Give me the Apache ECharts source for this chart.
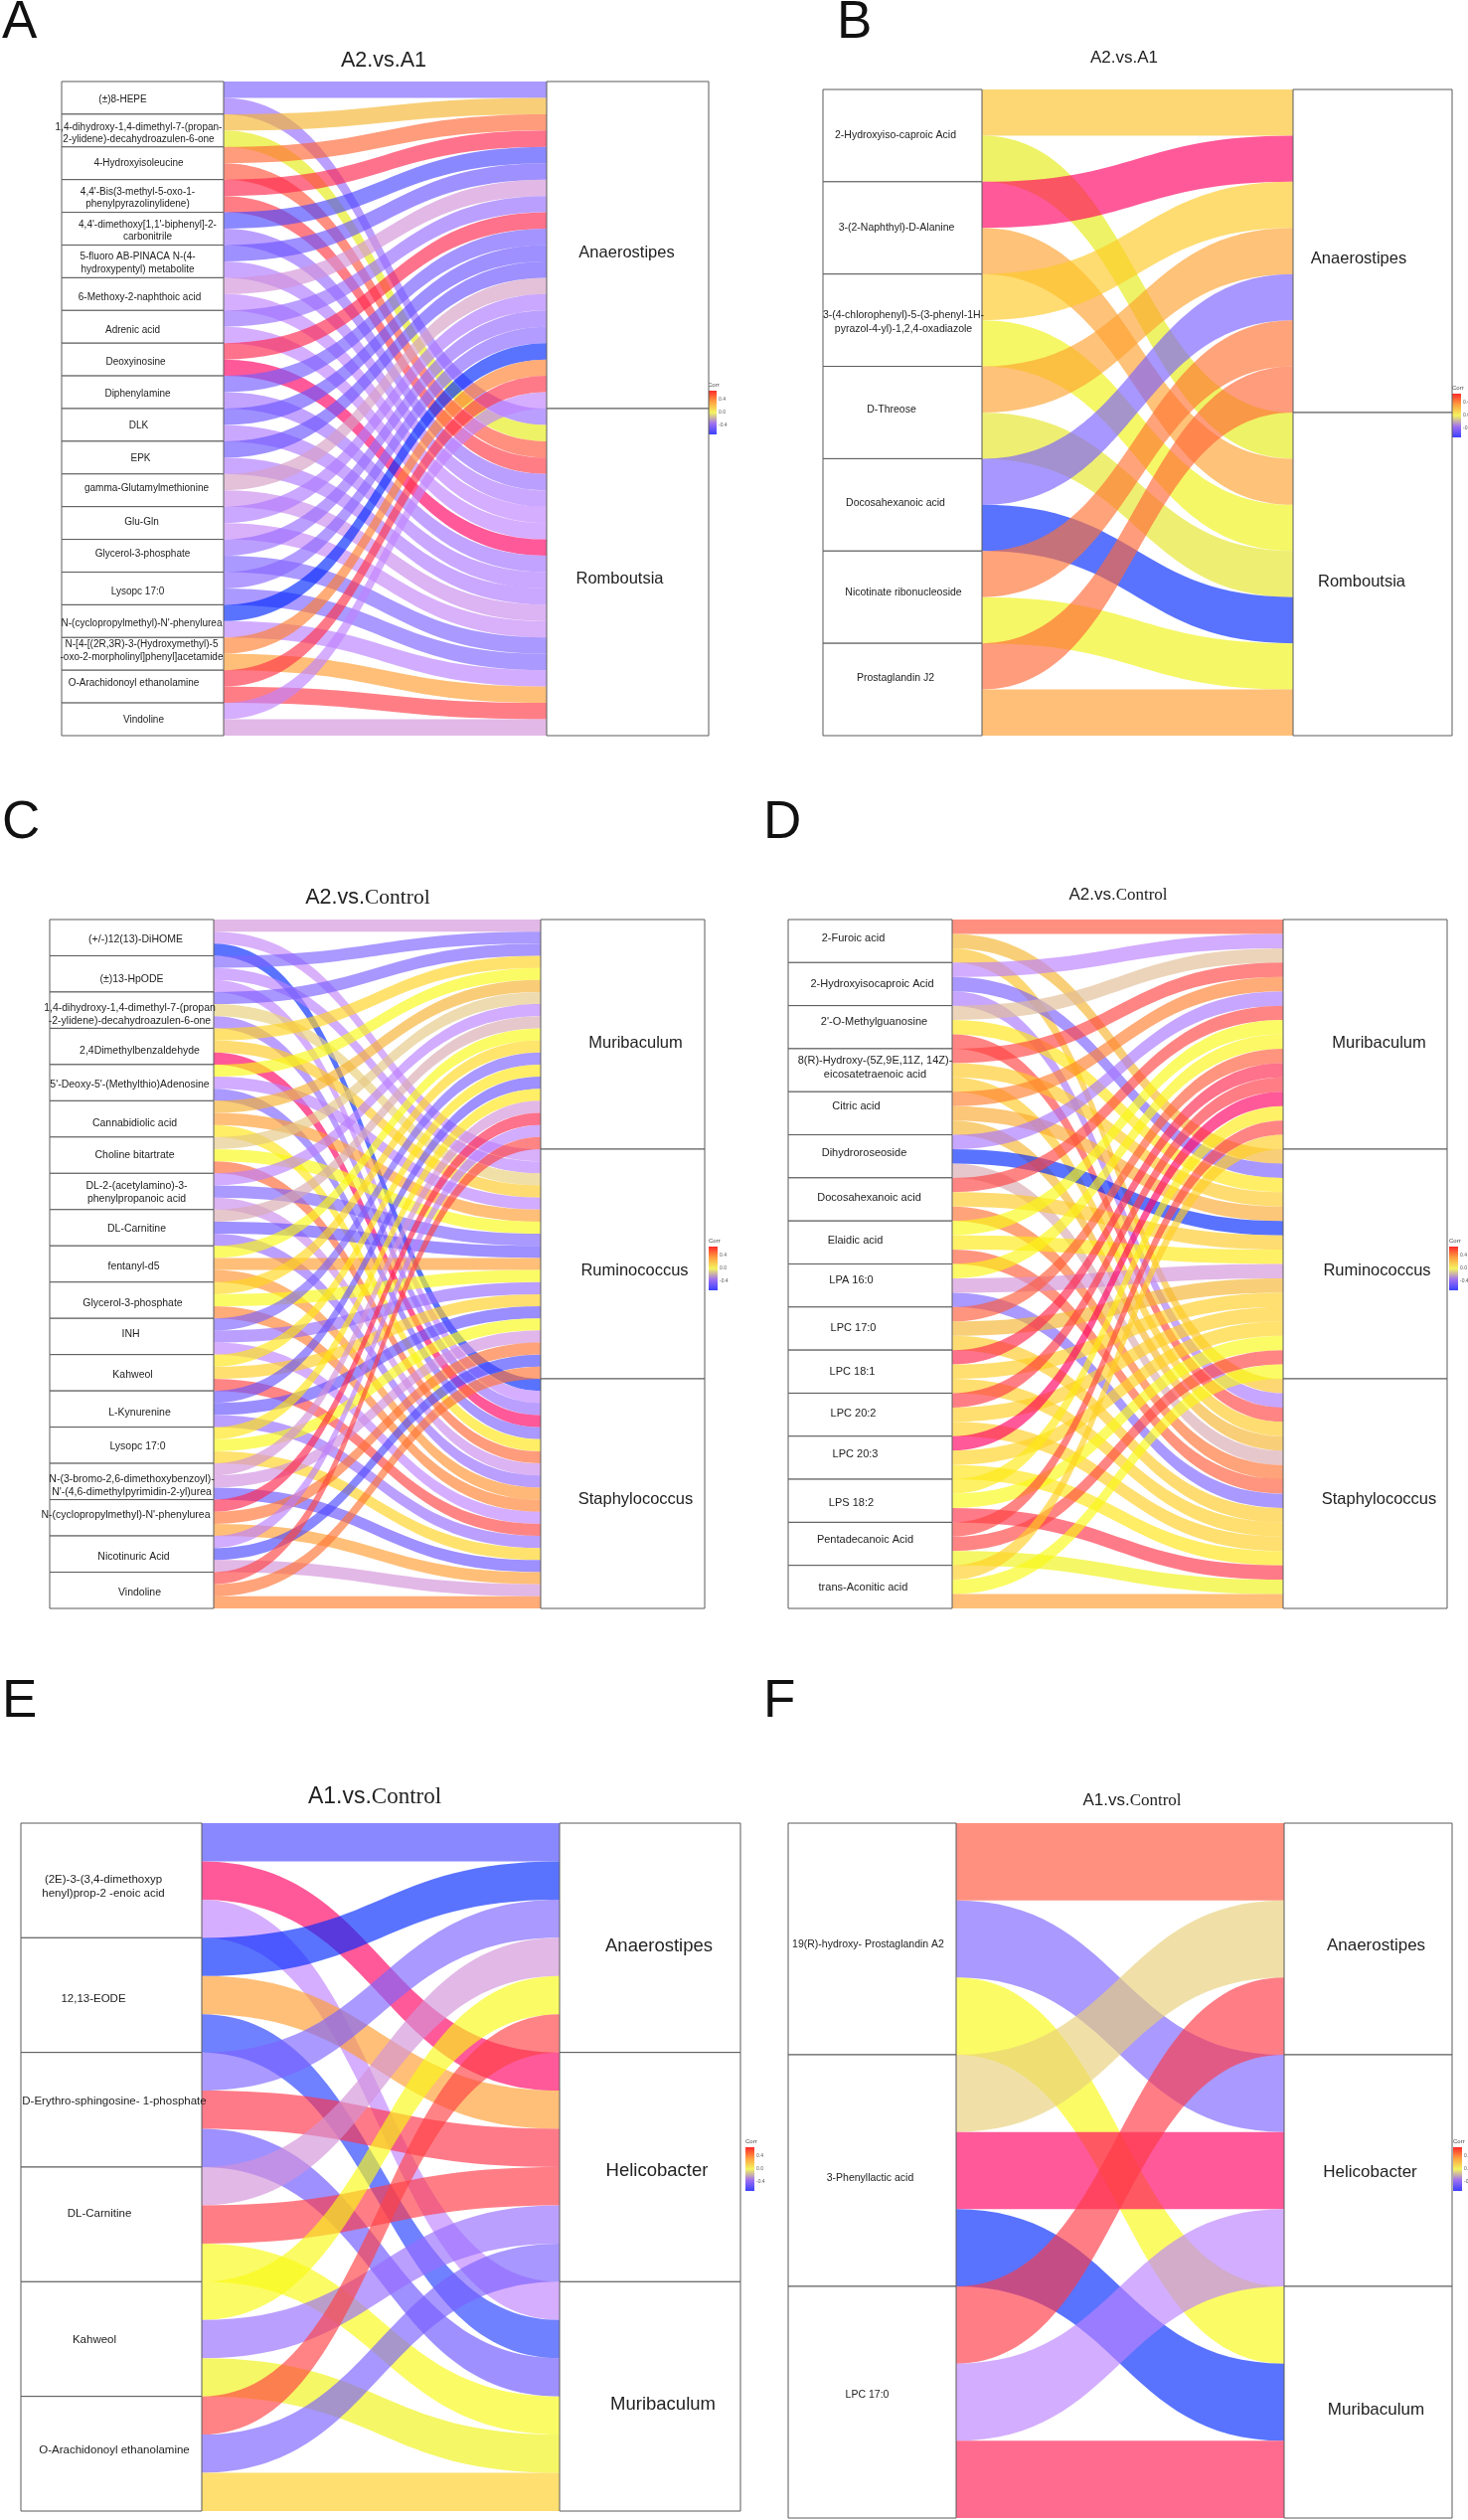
<!DOCTYPE html>
<html><head><meta charset="utf-8">
<style>html,body{margin:0;padding:0;background:#fff}#c{width:1477px;height:2535px}</style>
<script src="https://cdn.jsdelivr.net/npm/echarts@6/dist/echarts.min.js"></script>
</head><body><div id="c"></div>
<script>
// ---------- DATA ----------
const sourcesA = ["(±)8-HEPE","1,4-dihydroxy-1,4-dimethyl-7-(propan-\n2-ylidene)-decahydroazulen-6-one","4-Hydroxyisoleucine","4,4'-Bis(3-methyl-5-oxo-1-\nphenylpyrazolinylidene)","4,4'-dimethoxy[1,1'-biphenyl]-2-\ncarbonitrile","5-fluoro AB-PINACA N-(4-\nhydroxypentyl) metabolite","6-Methoxy-2-naphthoic acid","Adrenic acid","Deoxyinosine","Diphenylamine","DLK","EPK","gamma-Glutamylmethionine","Glu-Gln","Glycerol-3-phosphate","Lysopc 17:0","N-(cyclopropylmethyl)-N'-phenylurea","N-[4-[(2R,3R)-3-(Hydroxymethyl)-5\n-oxo-2-morpholinyl]phenyl]acetamide","O-Arachidonoyl ethanolamine","Vindoline"];
const targetsA = ["Anaerostipes","Romboutsia"];
const corrA = [[-.6,-.5],[.5,.1],[.75,.8],[.92,.88],[-.8,-.5],[-.7,-.4],[-.2,-.3],[-.5,-.3],[.92,1],[-.65,-.45],[-.7,-.4],[-.7,-.4],[-.15,-.25],[-.4,-.28],[-.5,-.6],[-.55,-.6],[-1,-.33],[.68,.6],[.9,.88],[-.3,-.2]];

const sourcesB = ["2-Hydroxyiso-caproic Acid","3-(2-Naphthyl)-D-Alanine","3-(4-chlorophenyl)-5-(3-phenyl-1H-\npyrazol-4-yl)-1,2,4-oxadiazole","D-Threose","Docosahexanoic acid","Nicotinate ribonucleoside","Prostaglandin J2"];
const targetsB = ["Anaerostipes","Romboutsia"];
const corrB = [[.45,.1],[1,.58],[.42,.15],[.58,.08],[-.62,-1],[.72,.15],[.75,.6]];

const sourcesC = ["(+/-)12(13)-DiHOME","(±)13-HpODE","1,4-dihydroxy-1,4-dimethyl-7-(propan\n-2-ylidene)-decahydroazulen-6-one","2,4Dimethylbenzaldehyde","5'-Deoxy-5'-(Methylthio)Adenosine","Cannabidiolic acid","Choline bitartrate","DL-2-(acetylamino)-3-\nphenylpropanoic acid","DL-Carnitine","fentanyl-d5","Glycerol-3-phosphate","INH","Kahweol","L-Kynurenine","Lysopc 17:0","N-(3-bromo-2,6-dimethoxybenzoyl)-\nN'-(4,6-dimethylpyrimidin-2-yl)urea","N-(cyclopropylmethyl)-N'-phenylurea","Nicotinuric Acid","Vindoline"];
const targetsC = ["Muribaculum","Ruminococcus","Staphylococcus"];
const corrC = [[-.2,-.28,-1],[-.6,-.33,-.3],[-.62,0,-.5],[.38,.42,1],[.2,-.33,-.6],[.52,.6,.3],[-.02,.2,.75],[-.33,-.6,-.25],[-.1,-.7,-.5],[.2,.6,.63],[.36,.2,.68],[-.6,-.5,-.3],[.3,.4,.85],[-.7,-.72,-.5],[.3,.2,.38],[-.2,-.22,-.7],[.92,.72,.6],[-.33,-.8,-.2],[.85,.72,.68]];

const sourcesD = ["2-Furoic acid","2-Hydroxyisocaproic Acid","2'-O-Methylguanosine","8(R)-Hydroxy-(5Z,9E,11Z, 14Z)-\neicosatetraenoic acid","Citric acid","Dihydroroseoside","Docosahexanoic acid","Elaidic acid","LPA 16:0","LPC 17:0","LPC 18:1","LPC 20:2","LPC 20:3","LPS 18:2","Pentadecanoic Acid","trans-Aconitic acid"];
const targetsD = ["Muribaculum","Ruminococcus","Staphylococcus"];
const corrD = [[.8,.5,.45],[-.33,-.62,-.42],[-.05,.3,.85],[.85,.42,.42],[.68,.55,.5],[-.42,-1,-.1],[.85,.42,.72],[.2,.28,.78],[.22,-.2,-.6],[.78,.5,.42],[.92,.4,.4],[.88,.4,.4],[1,.38,.3],[.28,.2,.9],[.85,.85,.15],[.4,.2,.6]];

const sourcesE = ["(2E)-3-(3,4-dimethoxyp\nhenyl)prop-2 -enoic acid","12,13-EODE","D-Erythro-sphingosine- 1-phosphate","DL-Carnitine","Kahweol","O-Arachidonoyl ethanolamine"];
const targetsE = ["Anaerostipes","Helicobacter","Muribaculum"];
const corrE = [[-.8,1,-.3],[-1,.6,-.88],[-.6,.9,-.7],[-.2,.88,.2],[.2,-.5,.15],[.86,-.62,.4]];

const sourcesF = ["19(R)-hydroxy- Prostaglandin A2","3-Phenyllactic acid","LPC 17:0"];
const targetsF = ["Anaerostipes","Helicobacter","Muribaculum"];
const corrF = [[.8,-.6,.2],[0,1,-1],[.88,-.32,.94]];

const titleTexts = ["A2.vs.A1","A2.vs.A1","A2.vs.{s|Control}","A2.vs.{s|Control}","A1.vs.{s|Control}","A1.vs.{s|Control}"];
const panelLetters = ["A","B","C","D","E","F"];
const legendTicks = [["0.4","0.0","-0.4"],["0.4","0.0","-0.4"],["0.4","0.0","-0.4"],["0.4","0.0","-0.4"],["0.4","0.0","-0.4"],["0.4","0.0","-0.4"]];

// ---------- STYLE ----------
const rampStops = ["#5073ff","#6a80ff","#8a88ff","#9e90ff","#aa99ff","#bb9fff","#caa8ff","#d6aeff","#e2b8e6","#e6c8cc","#f0e0a8","#eef266","#fbfb66","#ffee66","#ffdf70","#f8cf78","#ffbf78","#ffa878","#ff9080","#ff7a88","#ff5599"];
const ALPHA = 0.65;
function hex(c){return [1,3,5].map(i=>parseInt(c.substr(i,2),16));}
function tint(v){ // colour seen on white, read from the ramp
  const t=(v+1)*10, i=Math.min(19,Math.floor(t)), f=t-i, a=hex(rampStops[i]), b=hex(rampStops[i+1]);
  return a.map((x,k)=>x+(b[k]-x)*f);
}
function base(v){ // undo the alpha so translucent ribbon lands on that tint
  return 'rgb('+tint(v).map(x=>Math.max(0,Math.round((x-255*(1-ALPHA))/ALPHA))).join(',')+')';
}
const layouts = [
 {left:62,top:82,right:713,bottom:740,nw:163,fs:10,rfs:16.5,title:[386,63,21.5],letter:[2,-3],legend:[712,393],
  off:[[-20,2],[-4,3],[-4,0],[-5,2],[5,2],[-5,2],[-3,3],[-10,3],[-7,3],[-5,2],[-4,1],[-2,1],[4,-2],[-1,-1],[0,-2],[-5,3],[-1,2],[-1,-3],[-9,-3],[1,1]],
  roff:[[-1,8],[-8,7]]},
 {left:828,top:90,right:1461,bottom:740,nw:160,fs:10.5,rfs:16.5,title:[1131,60,17],letter:[842,-3],legend:[1461,396],
  off:[[-7,0],[-6,0],[1,2],[-11,-3],[-7,-2],[1,-5],[-7,-11]],
  roff:[[-14,8],[-11,8]]},
 {left:50,top:925,right:709,bottom:1618,nw:165,fs:10.5,rfs:16.5,title:[370,905,21.5],letter:[2,802],legend:[713,1254],
  off:[[4,2],[0,5],[-2,4],[8,4],[-2,2],[3,5],[3,0],[5,1],[5,1],[2,3],[1,3],[-1,-2],[1,2],[8,4],[6,1],[0,4],[-6,-3],[2,3],[8,2]],
  roff:[[13,9],[12,7],[13,6]]},
 {left:793,top:925,right:1456,bottom:1618,nw:165,fs:11,rfs:16.5,title:[1125,902,17],letter:[768,802],legend:[1458,1254],
  off:[[-17,-3],[2,0],[4,-5],[5,-3],[-14,-7],[-6,-3],[-1,-2],[-15,-2],[-19,-5],[-17,-1],[-18,0],[-17,-1],[-15,-3],[-19,2],[-5,-4],[-7,1]],
  roff:[[14,9],[12,7],[14,6]]},
 {left:21,top:1834,right:745,bottom:2526,nw:182,fs:11.5,rfs:18.5,title:[377,1810,23],letter:[2,1686],legend:[750,2160],
  off:[[-8,6],[-18,4],[3,-9],[-12,-11],[-17,1],[3,-4]],
  roff:[[9,9],[7,4],[13,8]]},
 {left:793,top:1834,right:1461,bottom:2533,nw:169,fs:10.5,rfs:17,title:[1139,1813,17],letter:[768,1686],legend:[1462,2160],
  off:[[-4,6],[-2,8],[-5,-7]],
  roff:[[8,7],[2,2],[8,8]]}
];
const panels = [[sourcesA,targetsA,corrA],[sourcesB,targetsB,corrB],[sourcesC,targetsC,corrC],[sourcesD,targetsD,corrD],[sourcesE,targetsE,corrE],[sourcesF,targetsF,corrF]];
const FONT='"Liberation Sans",Arial,sans-serif';

const series = panels.map(([src,tgt,corr],p)=>{
  const L=layouts[p];
  const data=src.map((n,i)=>({name:n,label:{offset:L.off[i],fontSize:L.fs,lineHeight:L.fs*1.25}}))
    .concat(tgt.map((n,i)=>({name:n,label:{offset:L.roff[i],fontSize:L.rfs}})));
  const links=[];
  src.forEach((n,i)=>tgt.forEach((t,j)=>links.push({source:n,target:t,value:1,lineStyle:{color:base(corr[i][j]),opacity:ALPHA}})));
  return {type:'sankey',left:L.left,top:L.top,width:L.right-L.left,height:L.bottom-L.top,
    nodeWidth:L.nw,nodeGap:0,layoutIterations:0,draggable:false,silent:true,animation:false,
    emphasis:{disabled:true},
    itemStyle:{color:'#fff',borderColor:'#5a5a5a',borderWidth:1},
    lineStyle:{curveness:0.5},
    label:{show:true,position:'inside',color:'#222',fontFamily:FONT,align:'center',verticalAlign:'middle'},
    data,links};
});

const titles=[];
layouts.forEach((L,p)=>{
  titles.push({text:titleTexts[p],left:L.title[0],top:L.title[1]-L.title[2]*.6,textAlign:'center',padding:0,
    textStyle:{fontFamily:FONT,fontWeight:'normal',fontSize:L.title[2],color:'#222',
      rich:{s:{fontFamily:'"Liberation Serif",serif',fontSize:L.title[2],color:'#222'}}}});
  titles.push({text:panelLetters[p],left:L.letter[0],top:L.letter[1],padding:0,
    textStyle:{fontFamily:FONT,fontWeight:'normal',fontSize:53,color:'#111'}});
});

const graphic=[];
layouts.forEach((L,p)=>{
  const [x,y]=L.legend, H=44;
  graphic.push({type:'rect',silent:true,shape:{x,y,width:9,height:H},style:{fill:new echarts.graphic.LinearGradient(0,0,0,1,[
    {offset:0,color:'#ff2a2a'},{offset:.25,color:'#ffa040'},{offset:.5,color:'#f4f460'},{offset:.75,color:'#a070f0'},{offset:1,color:'#3a40ff'}])}});
  graphic.push({type:'text',silent:true,style:{text:'Corr',x,y:y-9,fill:'#444',fontSize:6,fontFamily:FONT}});
  legendTicks[p].forEach((t,i)=>graphic.push({type:'text',silent:true,style:{text:t,x:x+11,y:y+6+i*13,fill:'#555',fontSize:5,fontFamily:FONT}}));
});

const chart=echarts.init(document.getElementById('c'),null,{renderer:'canvas'});
chart.setOption({animation:false,backgroundColor:'#fff',title:titles,series,graphic});
</script></body></html>
